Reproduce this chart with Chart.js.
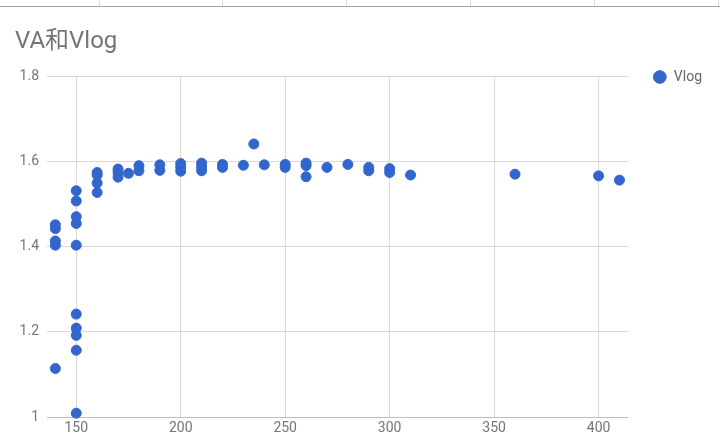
<!DOCTYPE html>
<html>
<head>
<meta charset="utf-8">
<script src="https://cdn.jsdelivr.net/npm/chart.js@4"></script>
<style>
  body { margin: 0; background: #fff; }
  #wrap { position: relative; width: 720px; height: 437px; overflow: hidden; }
  #cells { position: absolute; left: 0; top: 0; width: 720px; height: 6px; border-bottom: 1px solid #a6a6a6; }
  #cells span { position: absolute; top: 0; width: 1px; height: 6px; background: #dadada; }
  canvas { position: absolute; left: 0; top: 0; }
</style>
</head>
<body>
<div id="wrap">
  <canvas id="scatter_chart" width="720" height="437"></canvas>
  <div id="cells">
    <span style="left:99px"></span><span style="left:222px"></span><span style="left:346px"></span>
    <span style="left:470px"></span><span style="left:594px"></span><span style="left:718px"></span>
  </div>
</div>
<script>
// data (VA on x, Vlog on y)
const vaValues = [140, 140, 140, 140, 140,
  150, 150, 150, 150, 150, 150, 150, 150, 150, 150,
  160, 160, 160, 160,
  170, 170, 170, 175, 180, 180, 190, 190,
  200, 200, 200, 210, 210, 210, 220, 220,
  230, 235, 240, 250, 250, 260, 260, 260,
  270, 280, 290, 290, 300, 300, 310, 360, 400, 410];
const vlogValues = [1.452, 1.443, 1.414, 1.404, 1.114,
  1.532, 1.508, 1.471, 1.455, 1.404, 1.242, 1.209, 1.192, 1.157, 1.009,
  1.575, 1.569, 1.55, 1.528,
  1.583, 1.575, 1.564, 1.573, 1.591, 1.579, 1.593, 1.58,
  1.596, 1.587, 1.578, 1.597, 1.588, 1.579, 1.594, 1.587,
  1.592, 1.642, 1.593, 1.594, 1.587, 1.597, 1.591, 1.565,
  1.587, 1.594, 1.587, 1.579, 1.584, 1.575, 1.569, 1.571, 1.567, 1.557];
const xTicks = [150, 200, 250, 300, 350, 400];
const yTicks = [1, 1.2, 1.4, 1.6, 1.8];

const fontFamily = "Roboto, 'Noto Sans CJK SC', sans-serif";
const points = vaValues.map((v, i) => ({x: v, y: vlogValues[i]}));

const ctx = document.getElementById('scatter_chart').getContext('2d');
const scatter_chart = new Chart(ctx, {
type: 'scatter',
data: {
    datasets: [{
        label: 'Vlog',
        data: points,
        backgroundColor: '#3366cc',
        borderColor: '#3366cc',
        borderWidth: 1,
        pointRadius: 5,
        pointHoverRadius: 5,
        clip: false
    }]
},
options: {
    responsive: false,
    animation: false,
    devicePixelRatio: 1,
    layout: {
        padding: {left: 15, right: 8, top: 0, bottom: 0}
    },
    plugins: {
        title: {
            display: true,
            text: 'VA和Vlog',
            align: 'start',
            color: '#757575',
            font: {family: fontFamily, size: 24, weight: 'normal'},
            padding: {top: 28, bottom: 20}
        },
        legend: {
            position: 'right',
            align: 'start',
            title: {display: true, text: '', font: {size: 12}, padding: {top: 30.6, bottom: 0}},
            labels: {
                usePointStyle: true,
                pointStyle: 'circle',
                boxWidth: 14,
                boxHeight: 9,
                padding: 25,
                color: '#666666',
                font: {family: fontFamily, size: 14}
            }
        },
        tooltip: {enabled: false}
    },
    scales: {
        x: {
            type: 'linear',
            min: 136,
            max: 414,
            afterBuildTicks: (scale) => { scale.ticks = xTicks.map(v => ({value: v})); },
            afterFit: (scale) => { scale.height = 20; },
            ticks: {
                color: '#757575',
                padding: 3,
                maxRotation: 0,
                font: {family: fontFamily, size: 14},
                callback: (v) => String(v)
            },
            grid: {
                color: '#d9d9d9',
                drawTicks: false
            },
            border: {display: true, color: '#bdbdbd'}
        },
        y: {
            type: 'linear',
            min: 1,
            max: 1.8,
            afterBuildTicks: (scale) => { scale.ticks = yTicks.map(v => ({value: v})); },
            afterFit: (scale) => { scale.width = 32; },
            ticks: {
                color: '#757575',
                padding: 8,
                font: {family: fontFamily, size: 14},
                callback: (v) => String(v)
            },
            grid: {
                color: '#d9d9d9',
                drawTicks: false
            },
            border: {display: false}
        }
    }
}
});
</script>
</body>
</html>
